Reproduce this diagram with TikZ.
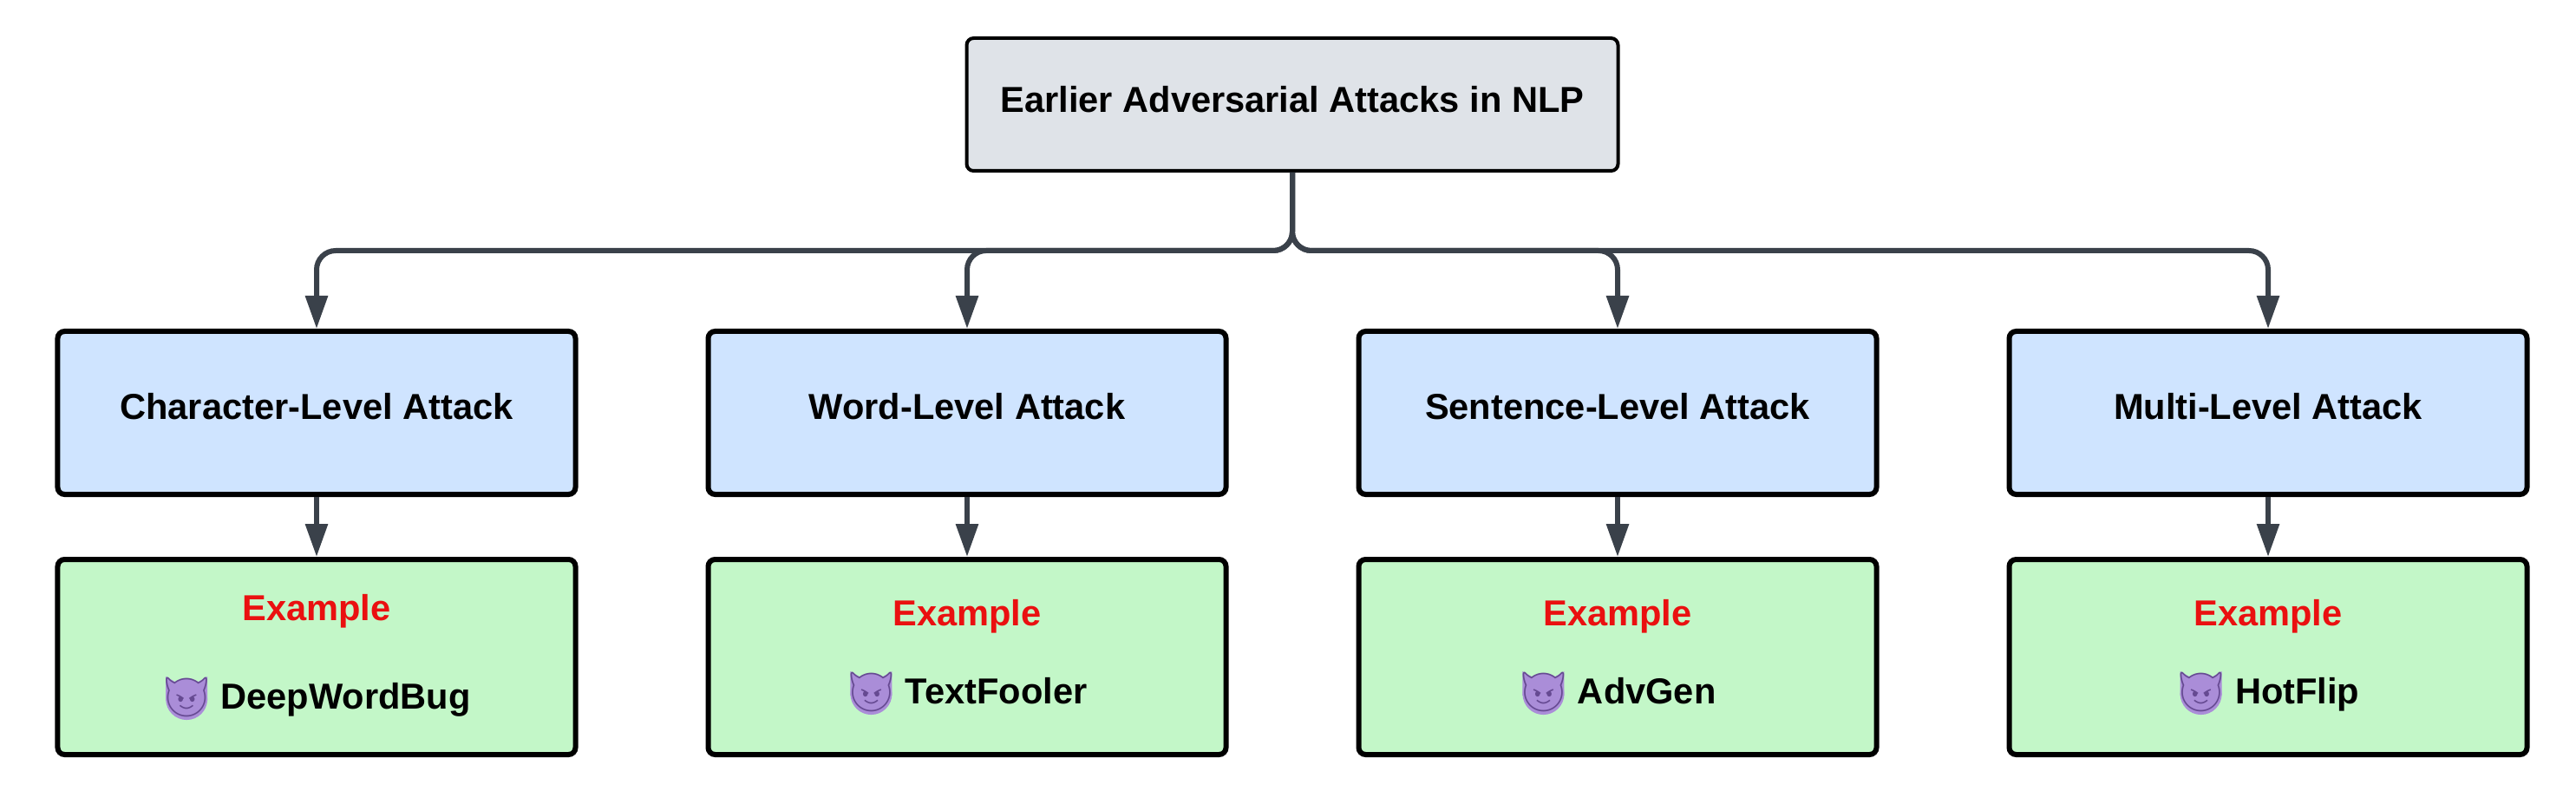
\documentclass[tikz,border=0pt]{standalone}
\usepackage{fontspec}
\setmainfont{Liberation Sans}
\newfontfamily\emojifont{Noto Emoji}
\usepackage{xcolor}
\usetikzlibrary{positioning, calc, arrows.meta}
\definecolor{root-gray}{HTML}{DFE3E8}
\definecolor{level-blue}{HTML}{CFE4FF}
\definecolor{example-green}{HTML}{C3F7C8}
\definecolor{example-red}{HTML}{EA1010}
\definecolor{link-gray}{HTML}{3A414A}
\definecolor{imp-light}{HTML}{AA8DD8}
\definecolor{imp-dark}{HTML}{664A92}
\newcommand{\impface}{\begin{tikzpicture}[baseline=-6.5pt, rounded corners=0pt, line width=0pt, draw=none]
	\fill[imp-light] (-12pt,12pt) -- (-5pt,8pt) -- (5pt,8pt) -- (12pt,12pt) -- (12pt,-2pt) -- (-12pt,-2pt) -- cycle;
	\fill[imp-light] (0,-1pt) ellipse (12pt and 12pt);
	\node[anchor=center, inner sep=0pt, minimum width=0pt, minimum height=0pt, text depth=, align=none, text=imp-dark, font=\emojifont\fontsize{22}{22}\selectfont] (imp) {😈};
\end{tikzpicture}}
\newcommand{\examplehead}{\textcolor{example-red}{Example}}
\tikzset{
	box/.style={draw, line width=3pt, rounded corners=4pt, font=\fontsize{20.8}{24}\selectfont\bfseries, align=center},
	rootbox/.style={box, line width=2pt, fill=root-gray, minimum width=375.5pt, minimum height=76.5pt, text depth=6pt},
	levelbox/.style={box, fill=level-blue, minimum width=298.5pt, minimum height=94pt, text depth=8pt},
	examplebox/.style={box, fill=example-green, minimum width=298.5pt, minimum height=112.5pt},
	link/.style={draw=link-gray, line width=3pt, rounded corners=11pt, -{Triangle[width=12.5pt, length=19pt]}, link-gray}
}
\begin{document}
\begin{tikzpicture}
	\useasboundingbox (-182.5pt,-225pt) rectangle (1302.5pt,238pt);
	\node[levelbox] (char) {Character-Level Attack};
	\node[levelbox, right=73.5pt of char] (word) {Word-Level Attack};
	\node[levelbox, right=73.5pt of word] (sentence) {Sentence-Level Attack};
	\node[levelbox, right=73.5pt of sentence] (multi) {Multi-Level Attack};
	\node[rootbox, above=90pt of $(word.north)!.5!(sentence.north)$] (root) {Earlier Adversarial Attacks in NLP};
	\node[examplebox, below=34.5pt of char] (deep) {\examplehead\\[27pt]\impface{} DeepWordBug};
	\node[examplebox, below=34.5pt of word] (fooler) {\examplehead\\[21pt]\impface{} TextFooler};
	\node[examplebox, below=34.5pt of sentence] (adv) {\examplehead\\[21pt]\impface{} AdvGen};
	\node[examplebox, below=34.5pt of multi] (flip) {\examplehead\\[21pt]\impface{} HotFlip};
	\coordinate[below=45pt of root.south] (split);
	\draw[link] (root.south) -- (split) -| (char.north);
	\draw[link] (root.south) -- (split) -| (word.north);
	\draw[link] (root.south) -- (split) -| (sentence.north);
	\draw[link] (root.south) -- (split) -| (multi.north);
	\draw[link] (char) -- (deep);
	\draw[link] (word) -- (fooler);
	\draw[link] (sentence) -- (adv);
	\draw[link] (multi) -- (flip);
\end{tikzpicture}
\end{document}
